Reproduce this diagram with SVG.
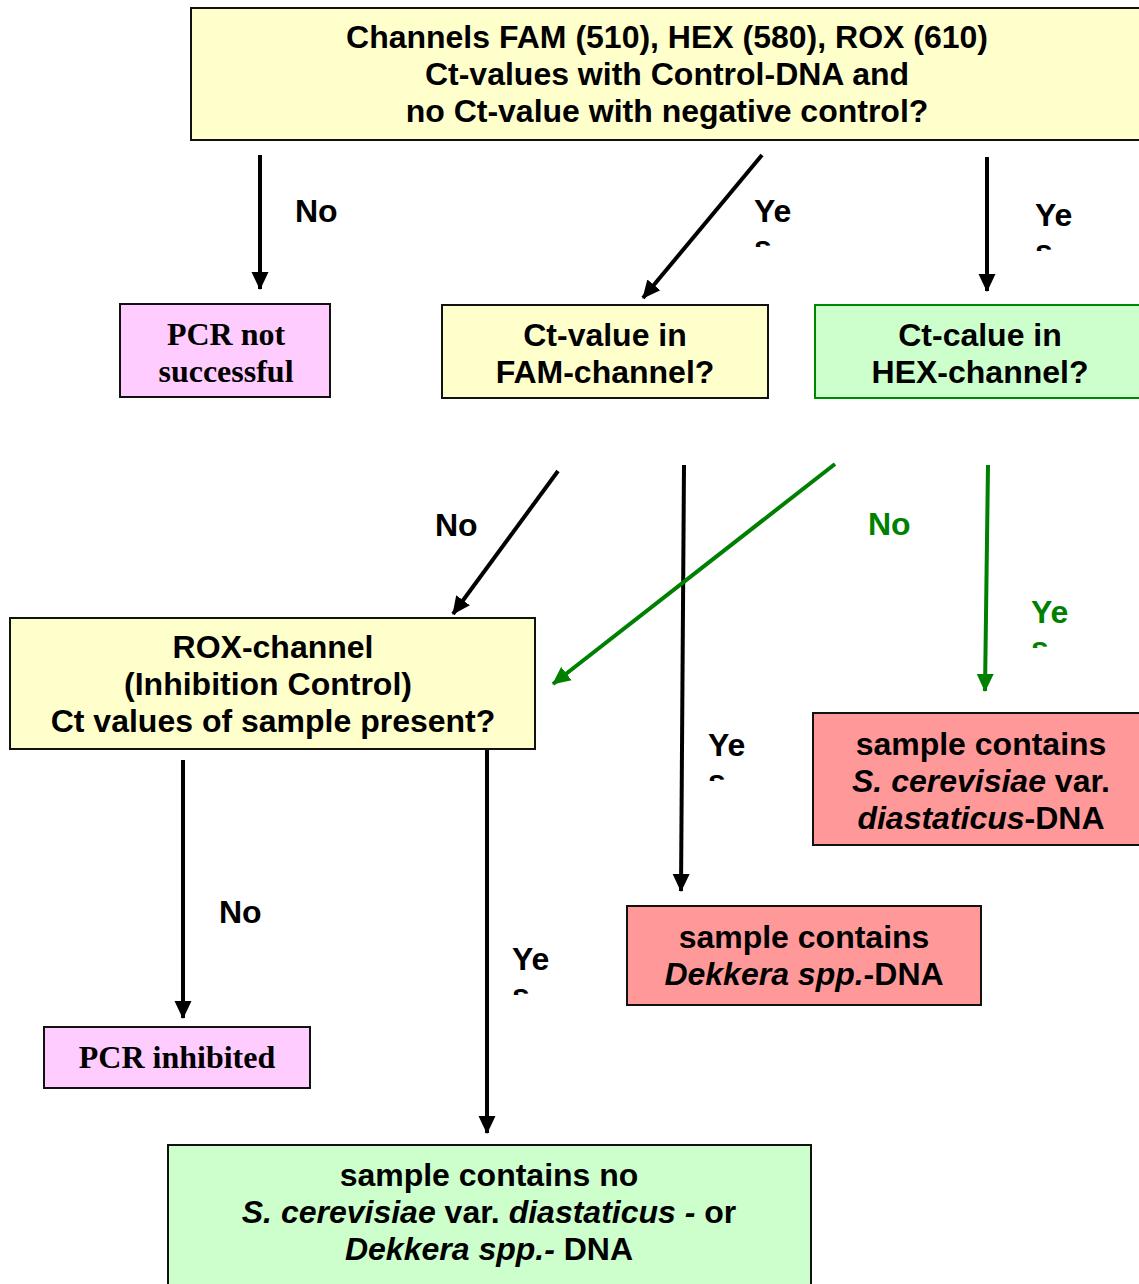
<svg xmlns="http://www.w3.org/2000/svg" width="1139" height="1284" viewBox="0 0 1139 1284">
<style>
.box{stroke:#111;stroke-width:2}
.y{fill:#FFFFCC}.p{fill:#FFCCFF}.g{fill:#CCFFCC}.r{fill:#FF9999}
.t{font-family:"Liberation Sans",Arial,sans-serif;font-weight:bold;font-size:32px;fill:#000;text-anchor:middle}
.s{font-family:"Liberation Serif","Times New Roman",serif;font-weight:bold;font-size:32px;fill:#000;text-anchor:middle}
.i{font-style:italic}
.l{font-family:"Liberation Sans",Arial,sans-serif;font-weight:bold;font-size:32px;fill:#000}
.lg{fill:#008000}
.a{stroke:#000;stroke-width:4;fill:none;marker-end:url(#ah)}
.ag{stroke:#008000;stroke-width:4;fill:none;marker-end:url(#ahg)}
</style>
<defs>
<marker id="ah" markerUnits="userSpaceOnUse" markerWidth="20" markerHeight="18" refX="17" refY="8.5" orient="auto" viewBox="0 0 20 17"><path d="M0,0 L18,8.5 L0,17 z" fill="#000"/></marker>
<marker id="ahg" markerUnits="userSpaceOnUse" markerWidth="20" markerHeight="18" refX="17" refY="8.5" orient="auto" viewBox="0 0 20 17"><path d="M0,0 L18,8.5 L0,17 z" fill="#008000"/></marker>
<clipPath id="c1"><rect x="740" y="180" width="100" height="67"/></clipPath>
<clipPath id="c2"><rect x="1020" y="180" width="100" height="71"/></clipPath>
<clipPath id="c3"><rect x="1015" y="580" width="100" height="68"/></clipPath>
<clipPath id="c4"><rect x="695" y="715" width="100" height="66"/></clipPath>
<clipPath id="c5"><rect x="500" y="930" width="100" height="65"/></clipPath>
</defs>
<rect width="1139" height="1284" fill="#fff"/>
<g id="connectors">
<line class="a" x1="260" y1="155" x2="260" y2="289"/>
<line class="a" x1="762" y1="155" x2="643" y2="298"/>
<line class="a" x1="987" y1="157" x2="987" y2="291"/>
<line class="a" x1="558" y1="471" x2="453" y2="614"/>
<line class="a" x1="684" y1="465" x2="681" y2="891"/>
<line class="ag" x1="835" y1="464" x2="553" y2="684"/>
<line class="ag" x1="988" y1="465" x2="985" y2="691"/>
<line class="a" x1="183" y1="760" x2="183" y2="1018"/>
<line class="a" x1="487" y1="750" x2="487" y2="1133"/>
<text class="l" x="295" y="222">No</text>
<g clip-path="url(#c1)"><text class="l" x="754" y="222">Ye<tspan x="754" dy="36">s</tspan></text></g>
<g clip-path="url(#c2)"><text class="l" x="1035" y="226">Ye<tspan x="1035" dy="36">s</tspan></text></g>
<text class="l" x="435" y="536">No</text>
<text class="l lg" x="868" y="535">No</text>
<g clip-path="url(#c3)"><text class="l lg" x="1031" y="623">Ye<tspan x="1031" dy="36">s</tspan></text></g>
<g clip-path="url(#c4)"><text class="l" x="708" y="756">Ye<tspan x="708" dy="36">s</tspan></text></g>
<text class="l" x="219" y="923">No</text>
<g clip-path="url(#c5)"><text class="l" x="512" y="970">Ye<tspan x="512" dy="36">s</tspan></text></g>
</g>
<g id="n-top">
<rect class="box y" x="191" y="8" width="960" height="132"/>
<text class="t" x="667" y="48">Channels FAM (510), HEX (580), ROX (610)</text>
<text class="t" x="667" y="85">Ct-values with Control-DNA and</text>
<text class="t" x="667" y="122">no Ct-value with negative control?</text>
</g>
<g id="n-pcrfail">
<rect class="box p" x="120" y="304" width="210" height="93"/>
<text class="s" x="226" y="345">PCR not</text>
<text class="s" x="226" y="382">successful</text>
</g>
<g id="n-fam">
<rect class="box y" x="442" y="305" width="326" height="93"/>
<text class="t" x="605" y="346">Ct-value in</text>
<text class="t" x="605" y="383">FAM-channel?</text>
</g>
<g id="n-hex">
<rect x="815" y="305" width="340" height="93" fill="#CCFFCC" stroke="#008800" stroke-width="2"/>
<text class="t" x="980" y="346">Ct-calue in</text>
<text class="t" x="980" y="383">HEX-channel?</text>
</g>
<g id="n-rox">
<rect class="box y" x="10" y="618" width="525" height="131"/>
<text class="t" x="273" y="658">ROX-channel</text>
<text class="t" x="268" y="695">(Inhibition Control)</text>
<text class="t" x="273" y="732">Ct values of sample present?</text>
</g>
<g id="n-scer">
<rect class="box r" x="813" y="713" width="340" height="132"/>
<text class="t" x="981" y="755">sample contains</text>
<text class="t" x="981" y="792"><tspan class="i">S. cerevisiae</tspan> var.</text>
<text class="t" x="981" y="829"><tspan class="i">diastaticus</tspan>-DNA</text>
</g>
<g id="n-dekkera">
<rect class="box r" x="627" y="906" width="354" height="99"/>
<text class="t" x="804" y="948">sample contains</text>
<text class="t" x="804" y="985"><tspan class="i">Dekkera spp.</tspan>-DNA</text>
</g>
<g id="n-inhibited">
<rect class="box p" x="44" y="1027" width="266" height="61"/>
<text class="s" x="177" y="1068">PCR inhibited</text>
</g>
<g id="n-none">
<rect class="box g" x="168" y="1145" width="643" height="150"/>
<text class="t" x="489" y="1186">sample contains no</text>
<text class="t" x="489" y="1223"><tspan class="i">S. cerevisiae</tspan> var. <tspan class="i">diastaticus -</tspan> or</text>
<text class="t" x="489" y="1260"><tspan class="i">Dekkera spp.-</tspan> DNA</text>
</g>
</svg>
